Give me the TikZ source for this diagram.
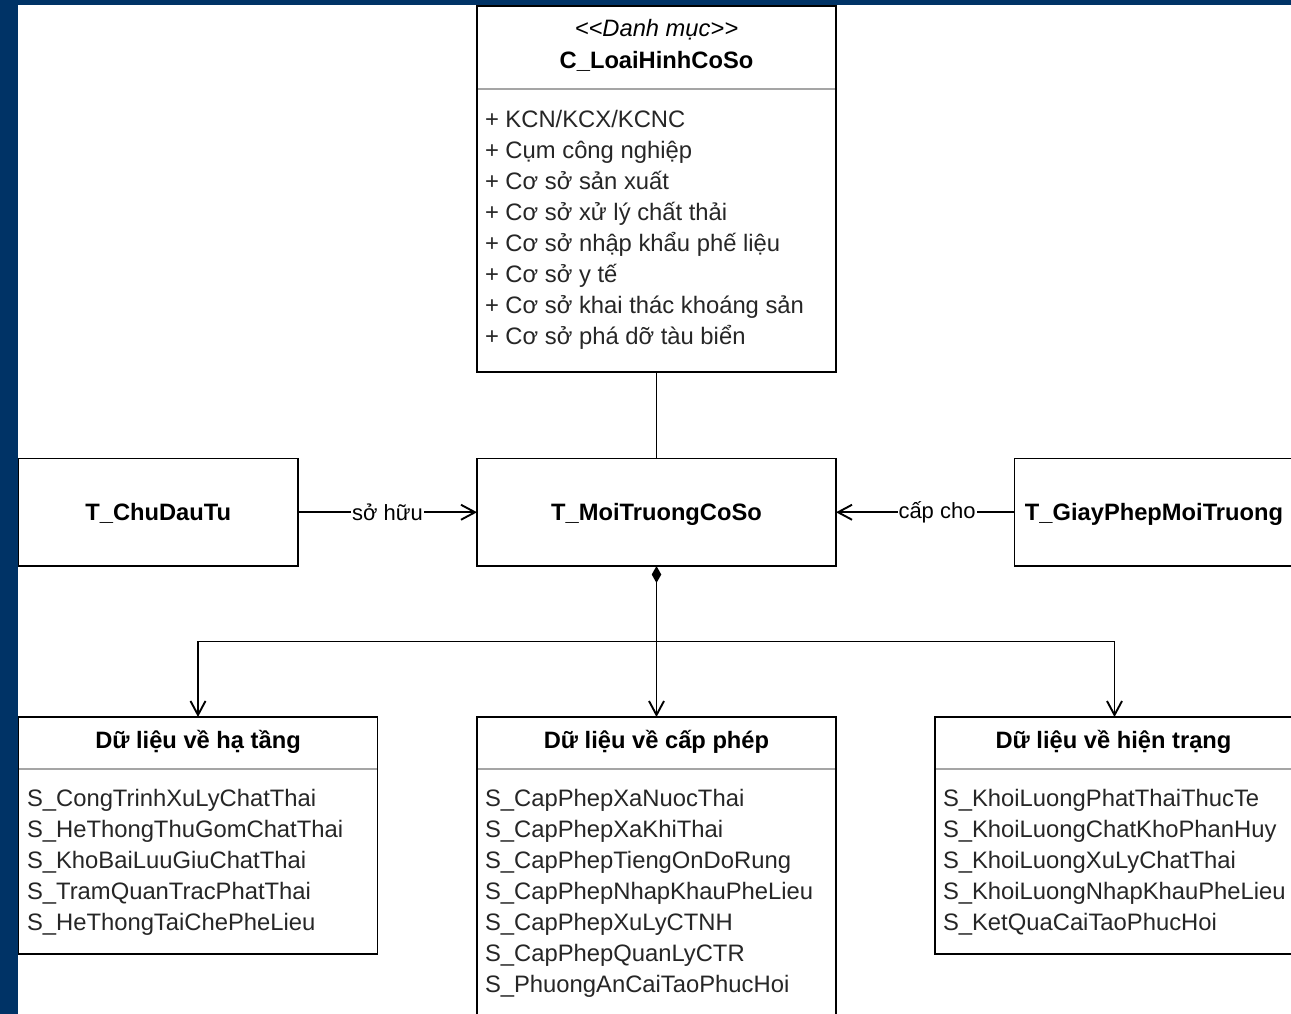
\documentclass[tikz,border=0pt]{standalone}
\usepackage{fontspec}
\setmainfont{Liberation Sans}
\usetikzlibrary{arrows.meta}
\definecolor{frameblue}{RGB}{0,51,102}
\definecolor{sepgray}{RGB}{165,165,165}
\begin{document}
\begin{tikzpicture}[x=1bp,y=-1bp,
  every node/.style={inner sep=0pt, outer sep=0pt},
  entity/.style={draw=black, line width=1.9bp, rectangle, fill=white, anchor=north west},
  titletext/.style={font=\fontsize{23.7bp}{28bp}\selectfont\bfseries},
  centertitle/.style={titletext, text height=17bp, text depth=0bp},
  headtitle/.style={titletext, anchor=base},
  itemtext/.style={font=\fontsize{23.8bp}{31bp}\selectfont, text=black!85, anchor=base west},
  linktext/.style={font=\fontsize{22bp}{26bp}\selectfont, fill=white, inner xsep=1bp, inner ysep=2bp},
  conn/.style={line width=1.9bp, draw=black},
  openhead/.style={-{Straight Barb[length=14bp,width=15bp]}},
  sepline/.style={draw=sepgray, line width=1.9bp}
]
% page and frame
\useasboundingbox (0,0) rectangle (1291,1014);
\clip (0,0) rectangle (1291,1014);
\fill[white] (0,0) rectangle (1291,1014);
\fill[frameblue] (0,0) rectangle (17.5,1014);
\fill[frameblue] (0,0) rectangle (1291,5);

% catalogue class
\node[entity, minimum width=359bp, minimum height=366bp] (cat) at (477,6) {};
\draw[sepline] ([yshift=-83bp,xshift=0.9bp]cat.north west) -- ([yshift=-83bp,xshift=-0.9bp]cat.north east);
\node[font=\fontsize{23.7bp}{28bp}\selectfont\itshape, anchor=base] (catst) at (656.5,36) {<\kern0pt<Danh mục>\kern0pt>};
\node[headtitle] (catnm) at (656.5,68) {C\_LoaiHinhCoSo};
\foreach \t [count=\i] in {{+ KCN/KCX/KCNC}, {+ Cụm công nghiệp}, {+ Cơ sở sản xuất},
  {+ Cơ sở xử lý chất thải}, {+ Cơ sở nhập khẩu phế liệu}, {+ Cơ sở y tế},
  {+ Cơ sở khai thác khoáng sản}, {+ Cơ sở phá dỡ tàu biển}}
  \node[itemtext] (catI\i) at (485,{127+31*(\i-1)}) {\t};

% main entities
\node[entity, centertitle, minimum width=279.5bp, minimum height=107.5bp] (cdt) at (18.5,458.5) {T\_ChuDauTu};
\node[entity, centertitle, minimum width=359bp, minimum height=107.5bp] (mt) at (477,458.5) {T\_MoiTruongCoSo};
\node[entity, centertitle, minimum width=279bp, minimum height=107.5bp] (gp) at (1014.5,458.5) {T\_GiayPhepMoiTruong};

% data groups
\node[entity, minimum width=359bp, minimum height=237bp] (ddHT) at (18.5,717) {};
\draw[sepline] ([yshift=-52bp,xshift=0.9bp]ddHT.north west) -- ([yshift=-52bp,xshift=-0.9bp]ddHT.north east);
\node[headtitle] (ddHTt) at (198,748) {Dữ liệu về hạ tầng};
\foreach \t [count=\i] in {S\_CongTrinhXuLyChatThai, S\_HeThongThuGomChatThai, S\_KhoBaiLuuGiuChatThai,
  S\_TramQuanTracPhatThai, S\_HeThongTaiChePheLieu}
  \node[itemtext] (ddHTI\i) at (27,{806+31*(\i-1)}) {\t};

\node[entity, minimum width=359bp, minimum height=310bp] (ddCP) at (477,717) {};
\draw[sepline] ([yshift=-52bp,xshift=0.9bp]ddCP.north west) -- ([yshift=-52bp,xshift=-0.9bp]ddCP.north east);
\node[headtitle] (ddCPt) at (656.5,748) {Dữ liệu về cấp phép};
\foreach \t [count=\i] in {S\_CapPhepXaNuocThai, S\_CapPhepXaKhiThai, S\_CapPhepTiengOnDoRung,
  S\_CapPhepNhapKhauPheLieu, S\_CapPhepXuLyCTNH, S\_CapPhepQuanLyCTR, S\_PhuongAnCaiTaoPhucHoi}
  \node[itemtext] (ddCPI\i) at (485,{806+31*(\i-1)}) {\t};

\node[entity, minimum width=359bp, minimum height=237bp] (ddHS) at (935,717) {};
\draw[sepline] ([yshift=-52bp,xshift=0.9bp]ddHS.north west) -- ([yshift=-52bp,xshift=-0.9bp]ddHS.north east);
\node[headtitle] (ddHSt) at (1113.5,748) {Dữ liệu về hiện trạng};
\foreach \t [count=\i] in {S\_KhoiLuongPhatThaiThucTe, S\_KhoiLuongChatKhoPhanHuy, S\_KhoiLuongXuLyChatThai,
  S\_KhoiLuongNhapKhauPheLieu, S\_KetQuaCaiTaoPhucHoi}
  \node[itemtext] (ddHSI\i) at (943,{806+31*(\i-1)}) {\t};

% connectors
\draw[conn] (cat.south) -- (mt.north);
\draw[conn, openhead] (cdt.east) -- node[linktext] (lblSH) {sở hữu} (mt.west);
\draw[conn, openhead] (gp.west) -- node[linktext, pos=0.434] (lblCC) {cấp cho} (mt.east);

\coordinate (fork) at (656.5,641.5);
\draw[conn, {Diamond[length=17bp,width=9.5bp]}-{Straight Barb[length=14bp,width=15bp]}] (mt.south) -- (ddCP.north);
\draw[conn, openhead] (fork) -| (ddHT.north);
\draw[conn, openhead] (fork) -| (ddHS.north);
\end{tikzpicture}
\end{document}
